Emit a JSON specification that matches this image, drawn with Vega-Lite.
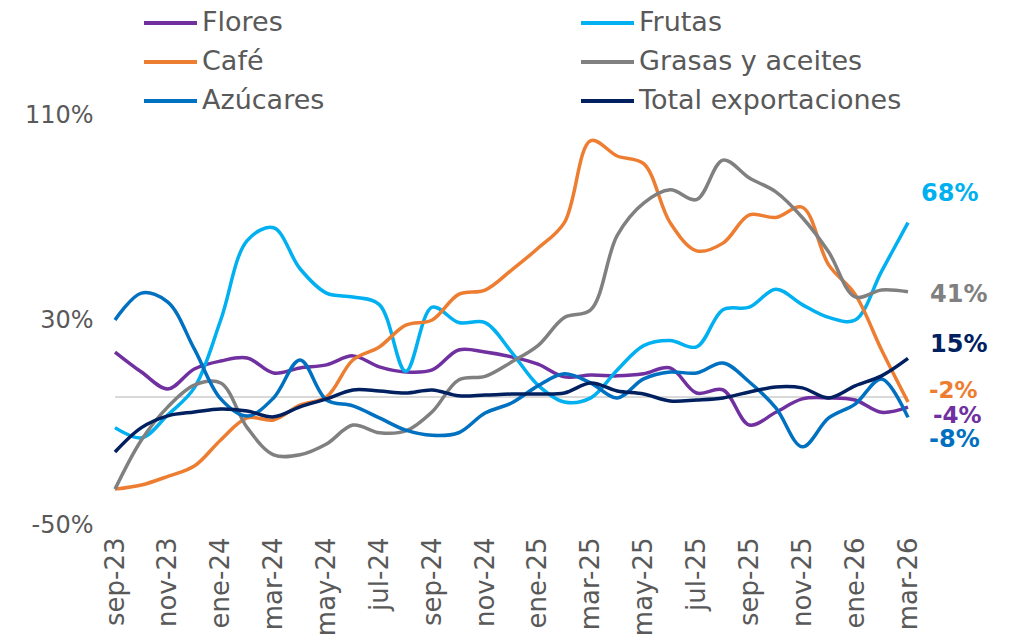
{
  "$schema": "https://vega.github.io/schema/vega-lite/v6.json",
  "width": 793,
  "height": 410,
  "autosize": {"type": "none"},
  "padding": {"left": 115, "top": 115, "right": 105, "bottom": 118},
  "background": "white",
  "config": {
    "view": {"stroke": null},
    "font": "DejaVu Sans",
    "locale": {
      "number": {"decimal": ".", "thousands": ",", "grouping": [3], "currency": ["$", ""], "minus": "-"}
    }
  },
  "data": {
    "values": [
      {"mes": "sep-23", "Flores": 0.175, "Frutas": -0.12, "Café": -0.36, "Grasas y aceites": -0.36, "Azúcares": 0.30, "Total exportaciones": -0.215},
      {"mes": "oct-23", "Flores": 0.097, "Frutas": -0.16, "Café": -0.344, "Grasas y aceites": -0.168, "Azúcares": 0.405, "Total exportaciones": -0.12},
      {"mes": "nov-23", "Flores": 0.031, "Frutas": -0.07, "Café": -0.31, "Grasas y aceites": -0.039, "Azúcares": 0.37, "Total exportaciones": -0.074},
      {"mes": "dic-23", "Flores": 0.109, "Frutas": 0.035, "Café": -0.27, "Grasas y aceites": 0.046, "Azúcares": 0.187, "Total exportaciones": -0.059},
      {"mes": "ene-24", "Flores": 0.14, "Frutas": 0.30, "Café": -0.168, "Grasas y aceites": 0.054, "Azúcares": -0.008, "Total exportaciones": -0.047},
      {"mes": "feb-24", "Flores": 0.152, "Frutas": 0.61, "Café": -0.082, "Grasas y aceites": -0.12, "Azúcares": -0.075, "Total exportaciones": -0.055},
      {"mes": "mar-24", "Flores": 0.093, "Frutas": 0.66, "Café": -0.09, "Grasas y aceites": -0.226, "Azúcares": -0.004, "Total exportaciones": -0.078},
      {"mes": "abr-24", "Flores": 0.113, "Frutas": 0.50, "Café": -0.032, "Grasas y aceites": -0.226, "Azúcares": 0.144, "Total exportaciones": -0.039},
      {"mes": "may-24", "Flores": 0.125, "Frutas": 0.405, "Café": 0.0, "Grasas y aceites": -0.184, "Azúcares": -0.012, "Total exportaciones": -0.008},
      {"mes": "jun-24", "Flores": 0.16, "Frutas": 0.39, "Café": 0.144, "Grasas y aceites": -0.11, "Azúcares": -0.035, "Total exportaciones": 0.027},
      {"mes": "jul-24", "Flores": 0.117, "Frutas": 0.36, "Café": 0.195, "Grasas y aceites": -0.14, "Azúcares": -0.082, "Total exportaciones": 0.023},
      {"mes": "ago-24", "Flores": 0.097, "Frutas": 0.10, "Café": 0.28, "Grasas y aceites": -0.133, "Azúcares": -0.13, "Total exportaciones": 0.015},
      {"mes": "sep-24", "Flores": 0.105, "Frutas": 0.35, "Café": 0.30, "Grasas y aceites": -0.058, "Azúcares": -0.15, "Total exportaciones": 0.027},
      {"mes": "oct-24", "Flores": 0.183, "Frutas": 0.29, "Café": 0.40, "Grasas y aceites": 0.066, "Azúcares": -0.14, "Total exportaciones": 0.004},
      {"mes": "nov-24", "Flores": 0.175, "Frutas": 0.29, "Café": 0.417, "Grasas y aceites": 0.08, "Azúcares": -0.063, "Total exportaciones": 0.007},
      {"mes": "dic-24", "Flores": 0.156, "Frutas": 0.175, "Café": 0.495, "Grasas y aceites": 0.136, "Azúcares": -0.024, "Total exportaciones": 0.011},
      {"mes": "ene-25", "Flores": 0.128, "Frutas": 0.046, "Café": 0.58, "Grasas y aceites": 0.20, "Azúcares": 0.043, "Total exportaciones": 0.011},
      {"mes": "feb-25", "Flores": 0.078, "Frutas": -0.02, "Café": 0.68, "Grasas y aceites": 0.31, "Azúcares": 0.09, "Total exportaciones": 0.015},
      {"mes": "mar-25", "Flores": 0.085, "Frutas": -0.004, "Café": 1.0, "Grasas y aceites": 0.34, "Azúcares": 0.054, "Total exportaciones": 0.054},
      {"mes": "abr-25", "Flores": 0.082, "Frutas": 0.105, "Café": 0.94, "Grasas y aceites": 0.63, "Azúcares": -0.004, "Total exportaciones": 0.023},
      {"mes": "may-25", "Flores": 0.09, "Frutas": 0.20, "Café": 0.91, "Grasas y aceites": 0.756, "Azúcares": 0.07, "Total exportaciones": 0.011},
      {"mes": "jun-25", "Flores": 0.113, "Frutas": 0.22, "Café": 0.68, "Grasas y aceites": 0.808, "Azúcares": 0.097, "Total exportaciones": -0.016},
      {"mes": "jul-25", "Flores": 0.015, "Frutas": 0.195, "Café": 0.57, "Grasas y aceites": 0.77, "Azúcares": 0.093, "Total exportaciones": -0.012},
      {"mes": "ago-25", "Flores": 0.027, "Frutas": 0.34, "Café": 0.60, "Grasas y aceites": 0.924, "Azúcares": 0.132, "Total exportaciones": -0.004},
      {"mes": "sep-25", "Flores": -0.11, "Frutas": 0.35, "Café": 0.71, "Grasas y aceites": 0.854, "Azúcares": 0.058, "Total exportaciones": 0.019},
      {"mes": "oct-25", "Flores": -0.06, "Frutas": 0.42, "Café": 0.70, "Grasas y aceites": 0.80, "Azúcares": -0.043, "Total exportaciones": 0.039},
      {"mes": "nov-25", "Flores": -0.008, "Frutas": 0.36, "Café": 0.74, "Grasas y aceites": 0.70, "Azúcares": -0.195, "Total exportaciones": 0.035},
      {"mes": "dic-25", "Flores": -0.004, "Frutas": 0.31, "Café": 0.515, "Grasas y aceites": 0.565, "Azúcares": -0.082, "Total exportaciones": -0.004},
      {"mes": "ene-26", "Flores": -0.012, "Frutas": 0.30, "Café": 0.40, "Grasas y aceites": 0.39, "Azúcares": -0.028, "Total exportaciones": 0.043},
      {"mes": "feb-26", "Flores": -0.06, "Frutas": 0.49, "Café": 0.183, "Grasas y aceites": 0.417, "Azúcares": 0.07, "Total exportaciones": 0.082},
      {"mes": "mar-26", "Flores": -0.04, "Frutas": 0.68, "Café": -0.02, "Grasas y aceites": 0.41, "Azúcares": -0.08, "Total exportaciones": 0.15}
    ]
  },
  "transform": [
    {"fold": ["Flores", "Frutas", "Café", "Grasas y aceites", "Azúcares", "Total exportaciones"], "as": ["serie", "valor"]}
  ],
  "layer": [
    {
      "data": {"values": [{"cero": 0}]},
      "transform": [],
      "mark": {"type": "rule", "color": "#D9D9D9", "strokeWidth": 2},
      "encoding": {
        "y": {"field": "cero", "type": "quantitative", "scale": {"domain": [-0.5, 1.1], "nice": false, "zero": false}}
      }
    },
    {
      "mark": {"type": "line", "interpolate": "catmull-rom", "strokeWidth": 3.5},
      "encoding": {
        "x": {
          "field": "mes", "type": "ordinal", "sort": null,
          "scale": {"type": "point", "padding": 0},
          "axis": {
            "title": null, "ticks": false, "domain": false, "grid": false,
            "values": ["sep-23", "nov-23", "ene-24", "mar-24", "may-24", "jul-24", "sep-24", "nov-24", "ene-25", "mar-25", "may-25", "jul-25", "sep-25", "nov-25", "ene-26", "mar-26"],
            "labelAngle": -90, "labelFontSize": 26, "labelColor": "#595959", "labelFont": "DejaVu Sans", "labelPadding": 12
          }
        },
        "y": {
          "field": "valor", "type": "quantitative",
          "scale": {"domain": [-0.5, 1.1], "nice": false, "zero": false},
          "axis": {
            "title": null, "ticks": false, "domain": false, "grid": false,
            "values": [-0.5, 0.3, 1.1], "format": ".0%",
            "labelFontSize": 24, "labelColor": "#595959", "labelFont": "DejaVu Sans", "labelPadding": 22
          }
        },
        "color": {
          "field": "serie", "type": "nominal",
          "scale": {
            "domain": ["Flores", "Café", "Azúcares", "Frutas", "Grasas y aceites", "Total exportaciones"],
            "range": ["#7030A0", "#ED7D31", "#0070C0", "#00B0F0", "#808080", "#002060"]
          },
          "legend": {
            "title": null, "orient": "none", "legendX": 27, "legendY": -107,
            "columns": 2, "columnPadding": 254, "rowPadding": 9, "clipHeight": 30,
            "symbolType": "stroke", "symbolSize": 2809, "symbolStrokeWidth": 4,
            "labelFontSize": 27, "labelColor": "#595959", "labelFont": "DejaVu Sans",
            "labelOffset": 3, "labelLimit": 400
          }
        }
      }
    },
    {
      "transform": [{"filter": "datum.mes == 'mar-26' && datum.serie == 'Frutas'"}],
      "mark": {"type": "text", "align": "left", "baseline": "middle", "dx": 13, "dy": -29, "fontSize": 24, "fontWeight": "bold", "font": "DejaVu Sans", "color": "#00B0F0"},
      "encoding": {"x": {"field": "mes", "type": "ordinal", "sort": null}, "y": {"field": "valor", "type": "quantitative"}, "text": {"field": "valor", "format": ".0%"}}
    },
    {
      "transform": [{"filter": "datum.mes == 'mar-26' && datum.serie == 'Grasas y aceites'"}],
      "mark": {"type": "text", "align": "left", "baseline": "middle", "dx": 22, "dy": 3, "fontSize": 24, "fontWeight": "bold", "font": "DejaVu Sans", "color": "#808080"},
      "encoding": {"x": {"field": "mes", "type": "ordinal", "sort": null}, "y": {"field": "valor", "type": "quantitative"}, "text": {"field": "valor", "format": ".0%"}}
    },
    {
      "transform": [{"filter": "datum.mes == 'mar-26' && datum.serie == 'Total exportaciones'"}],
      "mark": {"type": "text", "align": "left", "baseline": "middle", "dx": 22, "dy": -13, "fontSize": 24, "fontWeight": "bold", "font": "DejaVu Sans", "color": "#002060"},
      "encoding": {"x": {"field": "mes", "type": "ordinal", "sort": null}, "y": {"field": "valor", "type": "quantitative"}, "text": {"field": "valor", "format": ".0%"}}
    },
    {
      "transform": [{"filter": "datum.mes == 'mar-26' && datum.serie == 'Café'"}],
      "mark": {"type": "text", "align": "left", "baseline": "middle", "dx": 21, "dy": -11, "fontSize": 23, "fontWeight": "bold", "font": "DejaVu Sans", "color": "#ED7D31"},
      "encoding": {"x": {"field": "mes", "type": "ordinal", "sort": null}, "y": {"field": "valor", "type": "quantitative"}, "text": {"field": "valor", "format": ".0%"}}
    },
    {
      "transform": [{"filter": "datum.mes == 'mar-26' && datum.serie == 'Flores'"}],
      "mark": {"type": "text", "align": "left", "baseline": "middle", "dx": 25, "dy": 9, "fontSize": 23, "fontWeight": "bold", "font": "DejaVu Sans", "color": "#7030A0"},
      "encoding": {"x": {"field": "mes", "type": "ordinal", "sort": null}, "y": {"field": "valor", "type": "quantitative"}, "text": {"field": "valor", "format": ".0%"}}
    },
    {
      "transform": [{"filter": "datum.mes == 'mar-26' && datum.serie == 'Azúcares'"}],
      "mark": {"type": "text", "align": "left", "baseline": "middle", "dx": 21, "dy": 23, "fontSize": 24, "fontWeight": "bold", "font": "DejaVu Sans", "color": "#0070C0"},
      "encoding": {"x": {"field": "mes", "type": "ordinal", "sort": null}, "y": {"field": "valor", "type": "quantitative"}, "text": {"field": "valor", "format": ".0%"}}
    }
  ]
}
